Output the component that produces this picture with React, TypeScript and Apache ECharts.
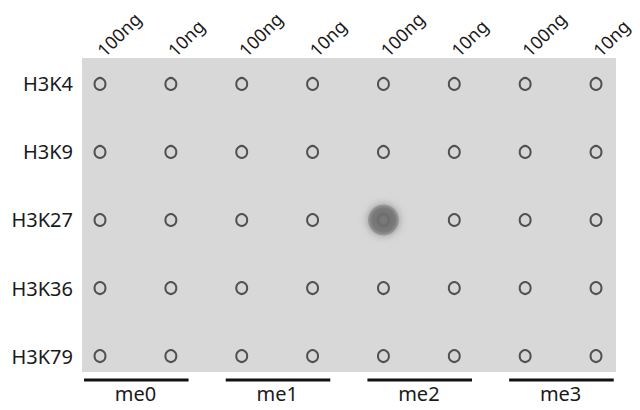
import React, { useEffect, useRef } from "react";
import * as echarts from "echarts";

const columns = ["100ng", "10ng", "100ng", "10ng", "100ng", "10ng", "100ng", "10ng"];
const rows = ["H3K4", "H3K9", "H3K27", "H3K36", "H3K79"];
const groups = ["me0", "me1", "me2", "me3"];
// signal intensity per row (H3K4..H3K79) and column
const signal = [
  [0, 0, 0, 0, 0, 0, 0, 0],
  [0, 0, 0, 0, 0, 0, 0, 0],
  [0, 0, 0, 0, 1, 0, 0, 0],
  [0, 0, 0, 0, 0, 0, 0, 0],
  [0, 0, 0, 0, 0, 0, 0, 0],
];

const FONT = "'Noto Sans', 'Open Sans', sans-serif";

export default function App() {
  const ref = useRef<HTMLDivElement>(null);
  useEffect(() => {
    if (!ref.current) return;
    const chart = echarts.init(ref.current, null, { renderer: "svg" });
    const rings: number[][] = [];
    const spots: number[][] = [];
    signal.forEach((r, ri) =>
      r.forEach((v, ci) => {
        rings.push([ci, ri]);
        if (v > 0) spots.push([ci, ri, v]);
      })
    );
    const colIdx = columns.map((_, i) => i);
    const rowIdx = rows.map((_, i) => i);
    const groupCenters = groups.map((_, i) => i * 2 + 0.5);
    const xMin = -0.254;
    const xMax = 7.282;
    const yMin = -0.382;
    const yMax = 4.235;
    chart.setOption({
      animation: false,
      grid: {
        left: 82,
        right: 24,
        top: 58,
        bottom: 38,
        show: true,
        backgroundColor: "#d8d8d8",
        borderWidth: 0,
        containLabel: false,
        outerBoundsMode: "none",
      },
      xAxis: [
        {
          type: "value",
          position: "top",
          min: xMin,
          max: xMax,
          axisLine: { show: false },
          axisTick: { show: false },
          splitLine: { show: false },
          axisLabel: {
            customValues: colIdx,
            formatter: (v: number) => columns[Math.round(v)] ?? "",
            rotate: 45,
            margin: 5,
            fontSize: 18,
            lineHeight: 18,
            fontFamily: FONT,
            color: "#1a1a1a",
          },
        },
        {
          type: "value",
          position: "bottom",
          min: xMin,
          max: xMax,
          axisLine: { show: false },
          axisTick: { show: false },
          splitLine: { show: false },
          axisLabel: {
            customValues: groupCenters,
            formatter: (v: number) => groups[Math.round((v - 0.5) / 2)] ?? "",
            margin: 11,
            fontSize: 20,
            fontFamily: FONT,
            color: "#1a1a1a",
          },
        },
      ],
      yAxis: {
        type: "value",
        inverse: true,
        min: yMin,
        max: yMax,
        axisLine: { show: false },
        axisTick: { show: false },
        splitLine: { show: false },
        axisLabel: {
          customValues: rowIdx,
          formatter: (v: number) => rows[Math.round(v)] ?? "",
          margin: 9,
          fontSize: 20,
          fontFamily: FONT,
          color: "#1a1a1a",
        },
      },
      series: [
        {
          type: "scatter",
          xAxisIndex: 0,
          data: rings,
          symbol: "circle",
          symbolSize: [11, 12],
          silent: true,
          itemStyle: { color: "#d6d6d6", borderColor: "#2e2e2e", borderWidth: 2 },
          z: 2,
        },
        {
          type: "scatter",
          xAxisIndex: 0,
          data: spots,
          symbol: "circle",
          symbolSize: (d: number[]) => 31 * d[2],
          silent: true,
          itemStyle: {
            color: {
              type: "radial",
              x: 0.5,
              y: 0.5,
              r: 0.5,
              colorStops: [
                { offset: 0, color: "#767676" },
                { offset: 0.35, color: "#6c6c6c" },
                { offset: 0.75, color: "#707070" },
                { offset: 1, color: "#959595" },
              ],
            },
            shadowBlur: 8,
            shadowColor: "rgba(120,120,120,0.9)",
          },
          z: 3,
        },
        {
          type: "custom",
          xAxisIndex: 0,
          clip: false,
          silent: true,
          data: groups.map((_, i) => [i * 2, i * 2 + 1]),
          renderItem: (_p: any, api: any) => {
            const yBar = yMax + 8 / 68;
            const a = api.coord([api.value(0) - 0.226, yBar]);
            const b = api.coord([api.value(1) + 0.25, yBar]);
            return {
              type: "line",
              shape: { x1: a[0], y1: a[1], x2: b[0], y2: b[1] },
              style: { stroke: "#111", lineWidth: 3 },
            };
          },
        },
      ],
    });
    return () => chart.dispose();
  }, []);
  return (
    <div
      ref={ref}
      style={{ position: "fixed", left: 0, top: 0, width: 640, height: 410, background: "#fff" }}
    />
  );
}
